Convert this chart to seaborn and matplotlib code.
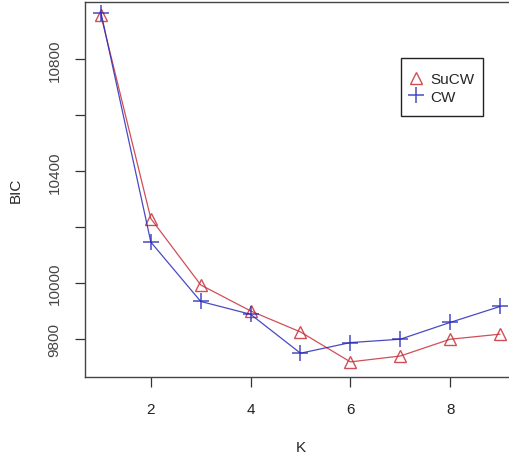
import matplotlib
matplotlib.use("Agg")
import matplotlib.pyplot as plt
from matplotlib.patches import Rectangle
import seaborn as sns
import pandas as pd

K = [1, 2, 3, 4, 5, 6, 7, 8, 9]
sucw = [10957, 10231, 9994, 9901, 9826, 9719, 9740, 9800, 9818]
cw = [10967, 10147, 9935, 9889, 9750, 9788, 9800, 9860, 9917]
yticks = [9800, 10000, 10200, 10400, 10600, 10800]
ytick_labels = ["9800", "10000", "", "10400", "", "10800"]
xticks = [2, 4, 6, 8]

sns.set_style("white")
plt.rcParams['font.family'] = ['Liberation Sans', 'DejaVu Sans']

W, H = 510, 456
fig = plt.figure(figsize=(5.1, 4.56), dpi=100)
ax = fig.add_axes([85 / W, (H - 378) / H, (516 - 85) / W, 375 / H])

red = "#c8303a"
blue = "#2a2ab8"
df = pd.DataFrame({"K": K, "SuCW": sucw, "CW": cw})

sns.lineplot(data=df, x="K", y="SuCW", ax=ax, color=red, linewidth=0.9, alpha=0.85,
             marker="^", markersize=9, markerfacecolor="none", markeredgecolor=red,
             markeredgewidth=1.0, label="SuCW")
sns.lineplot(data=df, x="K", y="CW", ax=ax, color=blue, linewidth=0.9, alpha=0.85,
             marker="+", markersize=11, markeredgecolor=blue, markeredgewidth=1.1,
             label="CW")

ax.set_xlim(0.68, 9.32)
ax.set_ylim(9665, 11005)
ax.set_xticks(xticks)
ax.set_xticklabels([str(x) for x in xticks], fontsize=11, color="#222222")
ax.set_yticks(yticks)
ax.set_yticklabels(ytick_labels, fontsize=11, rotation=90, va="center", color="#444444")
ax.tick_params(axis="both", direction="out", length=7, width=0.9, color="#333333",
               left=True, bottom=True)
ax.tick_params(axis="x", pad=11)
ax.tick_params(axis="y", pad=10)
for s in ax.spines.values():
    s.set_color("#444444")
    s.set_linewidth(1.0)

ax.set_xlabel("K", fontsize=11, labelpad=17)
ax.set_ylabel("BIC", fontsize=11, labelpad=18)

# legend frame box
fig.add_artist(Rectangle((401 / W, (H - 117) / H), (483 - 401) / W, (117 - 59) / H,
                         transform=fig.transFigure, fill=False, edgecolor="#222222",
                         linewidth=1.0, zorder=5))
leg = ax.legend(loc="center", bbox_to_anchor=(442 / W, (H - 89) / H),
                bbox_transform=fig.transFigure,
                frameon=False, fontsize=11, handlelength=0.9,
                handletextpad=0.5, borderpad=0.0, labelspacing=0.2, borderaxespad=0)
for line in leg.get_lines():
    line.set_linestyle("none")

fig.savefig("out.png", dpi=100)
